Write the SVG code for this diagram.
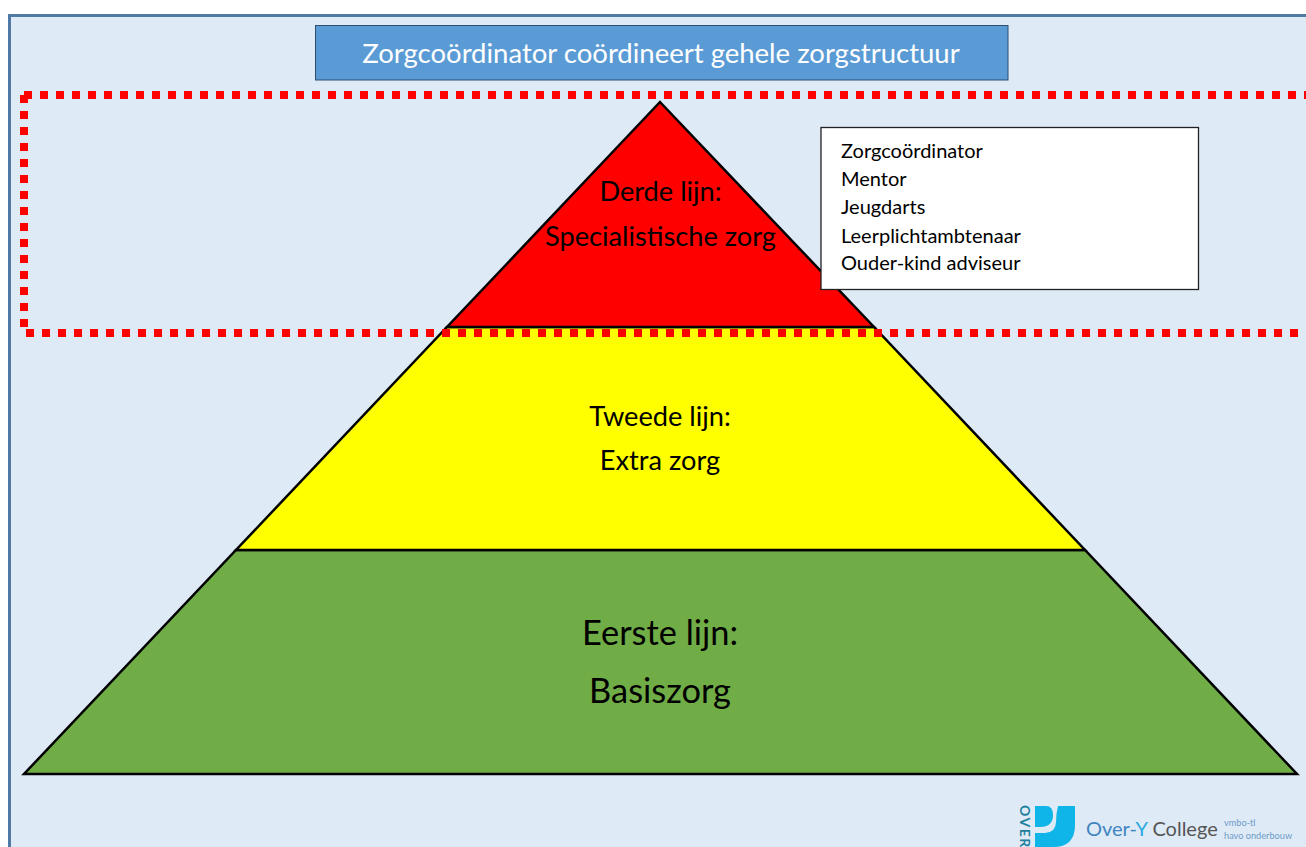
<svg xmlns="http://www.w3.org/2000/svg" width="1306" height="847" viewBox="0 0 1306 847">
<style>
text{font-family:Lato,"Liberation Sans",sans-serif;fill:#000}
.c{text-anchor:middle}
.l{font-size:20px}
.m{font-size:27.2px}
.b{font-size:34.4px}
.dot{fill:none;stroke:#f00;stroke-width:8;stroke-dasharray:8 8}
.tier{stroke:#000;stroke-width:2.5;stroke-linejoin:miter}
.sub{font-size:9.200px;fill:#6f9cc8}
</style>
<rect width="1306" height="847" fill="#fff"/>
<path d="M9.500 847V15.500H1306V847Z" fill="#deeaf6"/>
<path d="M9.500 847V15.500H1306" fill="none" stroke="#5079a5" stroke-width="3"/>
<g id="title"><rect x="315.500" y="25.500" width="692.500" height="54.500" fill="#5b9bd5" stroke="#2f4f6f" stroke-width="1"/>
<text class="c" x="661" y="63" font-size="27.500" style="fill:#fff">Zorgcoördinator coördineert gehele zorgstructuur</text></g>
<g id="eerste-lijn"><polygon class="tier" points="236,550 1085,550 1297,774 24,774" fill="#70ad47"/>
<text class="c b" x="660" y="645">Eerste lijn:</text><text class="c b" x="660" y="703">Basiszorg</text></g>
<g id="tweede-lijn"><polygon class="tier" points="447,327 874,327 1085,550 236,550" fill="#ff0"/>
<text class="c m" x="660" y="426">Tweede lijn:</text><text class="c m" x="660" y="470">Extra zorg</text></g>
<g id="derde-lijn"><polygon class="tier" points="660,102 874,327 447,327" fill="#f00"/>
<text class="c m" x="660.500" y="201">Derde lijn:</text><text class="c m" x="660.500" y="246">Specialistische zorg</text></g>
<g id="connectors"><path class="dot" d="M24 95H1306"/><path class="dot" d="M24 95V328"/><path class="dot" d="M26 333H1300"/></g>
<g id="rollen"><rect x="821" y="127.500" width="377.500" height="162" fill="#fff" stroke="#222" stroke-width="1.300"/>
<text class="l" x="841" y="158">Zorgcoördinator</text><text class="l" x="841" y="186">Mentor</text><text class="l" x="841" y="214">Jeugdarts</text><text class="l" x="841" y="243">Leerplichtambtenaar</text><text class="l" x="841" y="270">Ouder-kind adviseur</text></g>
<g id="logo">
<path d="M1035 806H1046Q1053 806 1053 815Q1053 827 1040 827H1035Z" fill="#0fb5e8"/>
<path d="M1058 806H1075V825Q1075 847 1053 847H1035V833H1045Q1056 832 1056 822Q1056 814 1058 806Z" fill="#0fb5e8"/>
<text font-size="14" font-weight="700" letter-spacing="1.500" transform="translate(1020 805) rotate(90)" style="fill:#1f7f9f">OVER</text>
<text x="1086" y="836" font-size="20" style="fill:#3f86c0">Over-<tspan style="fill:#2aa8e0">Y</tspan> <tspan style="fill:#555">College</tspan></text>
<text class="sub" x="1224" y="826">vmbo-tl</text>
<text class="sub" x="1224" y="839">havo onderbouw</text>
</g>
</svg>
